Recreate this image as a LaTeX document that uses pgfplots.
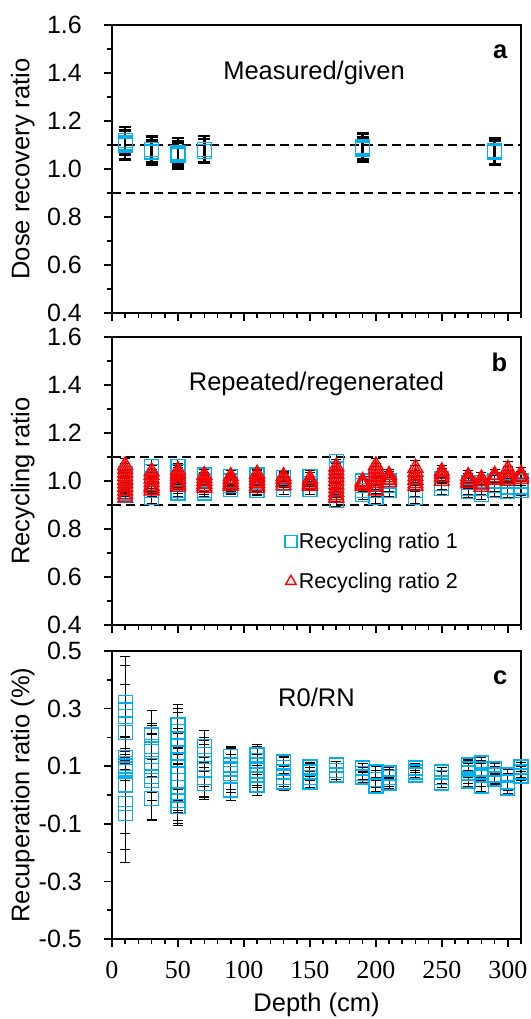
\documentclass[border=0pt]{standalone}
\usepackage{fontspec}
\setmainfont{Liberation Sans}
\newfontfamily\timesfont{Liberation Serif}
\usepackage{pgfplots}
\usepackage{pgfplotstable}
\pgfplotsset{compat=1.18}

\definecolor{rrblue}{RGB}{0,176,240}
\definecolor{rrred}{RGB}{255,0,0}

\newcommand\tickfont{\fontsize{25}{28}\selectfont}
\newcommand\labfont{\fontsize{25.5}{28}\selectfont}

% Dose recovery: depth (cm), ratio, error
\pgfplotstableread{
x y e
10 1.120 0.056
10 1.100 0.060
10 1.108 0.050
30 1.080 0.055
30 1.068 0.050
30 1.074 0.045
50 1.070 0.060
50 1.058 0.058
50 1.064 0.045
70 1.082 0.055
70 1.074 0.050
190 1.092 0.056
190 1.080 0.050
190 1.086 0.045
290 1.075 0.055
290 1.068 0.050
}\doserec

% Recycling ratio 1
\pgfplotstableread{
x y e
10 1.030 0.030
10 1.010 0.025
10 0.990 0.030
10 0.970 0.025
10 0.950 0.030
10 0.940 0.025
30 1.060 0.030
30 1.040 0.025
30 1.010 0.030
30 0.980 0.030
30 0.960 0.025
30 0.930 0.025
50 1.060 0.030
50 1.040 0.025
50 1.010 0.030
50 0.990 0.030
50 0.960 0.025
50 0.950 0.025
70 1.025 0.025
70 1.000 0.030
70 0.980 0.025
70 0.960 0.025
70 0.950 0.020
90 1.020 0.025
90 1.000 0.025
90 0.980 0.030
90 0.965 0.020
110 1.025 0.025
110 1.000 0.030
110 0.980 0.025
110 0.960 0.020
130 1.015 0.020
130 0.990 0.025
130 0.965 0.020
150 1.020 0.025
150 0.990 0.025
150 0.965 0.020
170 1.080 0.030
170 1.050 0.030
170 1.010 0.030
170 0.970 0.030
170 0.940 0.025
170 0.920 0.025
190 1.000 0.030
190 0.980 0.025
190 0.960 0.030
190 0.945 0.020
200 1.020 0.030
200 0.990 0.025
200 0.960 0.030
200 0.930 0.025
210 1.000 0.030
210 0.980 0.025
210 0.960 0.025
230 0.990 0.030
230 0.960 0.025
230 0.930 0.025
250 1.010 0.030
250 0.990 0.025
250 0.970 0.025
270 0.995 0.030
270 0.970 0.025
270 0.955 0.025
280 0.995 0.030
280 0.970 0.025
280 0.945 0.020
290 1.000 0.030
290 0.980 0.025
290 0.960 0.025
300 1.000 0.030
300 0.975 0.025
300 0.955 0.025
310 1.000 0.030
310 0.975 0.025
310 0.960 0.020
}\recycA

% Recycling ratio 2
\pgfplotstableread{
x y e
10 1.065 0.030
10 1.050 0.025
10 1.035 0.025
10 1.020 0.025
10 1.005 0.030
10 0.990 0.025
10 0.975 0.025
10 0.960 0.025
10 0.945 0.020
10 0.931 0.020
30 1.040 0.030
30 1.025 0.025
30 1.010 0.025
30 0.995 0.025
30 0.980 0.030
30 0.970 0.025
30 0.960 0.025
50 1.045 0.030
50 1.032 0.025
50 1.020 0.025
50 1.008 0.025
50 0.995 0.030
50 0.985 0.025
50 0.975 0.025
70 1.025 0.025
70 1.012 0.025
70 1.000 0.025
70 0.988 0.020
70 0.978 0.025
70 0.970 0.025
90 1.020 0.025
90 1.008 0.025
90 0.997 0.020
90 0.988 0.025
90 0.980 0.025
110 1.030 0.025
110 1.017 0.025
110 1.005 0.020
110 0.992 0.025
110 0.980 0.025
110 0.970 0.025
130 1.020 0.020
130 1.008 0.025
130 0.995 0.020
130 0.982 0.020
150 1.010 0.025
150 0.998 0.020
150 0.988 0.020
150 0.980 0.020
170 1.060 0.030
170 1.045 0.030
170 1.030 0.030
170 1.015 0.025
170 1.000 0.025
170 0.985 0.030
170 0.970 0.025
170 0.955 0.025
170 0.940 0.025
170 0.930 0.020
190 1.000 0.030
190 0.993 0.025
190 0.986 0.025
190 0.980 0.025
200 1.065 0.030
200 1.050 0.025
200 1.035 0.025
200 1.020 0.030
200 1.005 0.025
200 0.990 0.025
200 0.975 0.025
200 0.960 0.025
210 1.025 0.025
210 1.015 0.025
210 1.005 0.020
210 0.995 0.020
230 1.055 0.030
230 1.038 0.025
230 1.020 0.025
230 1.005 0.025
230 0.990 0.025
230 0.980 0.025
250 1.040 0.025
250 1.028 0.025
250 1.015 0.025
250 1.000 0.020
270 1.020 0.025
270 1.008 0.025
270 0.997 0.020
270 0.990 0.020
280 1.010 0.025
280 0.998 0.025
280 0.986 0.020
280 0.975 0.020
290 1.025 0.025
290 1.015 0.020
290 1.005 0.020
300 1.050 0.030
300 1.035 0.025
300 1.020 0.025
300 1.008 0.020
300 1.000 0.020
310 1.030 0.025
310 1.018 0.020
310 1.008 0.020
}\recycB

% Recuperation
\pgfplotstableread{
x y e
10 0.322 0.160
10 0.295 0.155
10 0.272 0.110
10 0.216 0.166
10 0.131 0.070
10 0.101 0.050
10 0.110 0.020
10 0.090 0.030
10 0.035 0.168
10 -0.029 0.160
10 -0.064 0.172
30 0.208 0.085
30 0.168 0.080
30 0.150 0.060
30 0.110 0.130
30 0.085 0.060
30 0.064 0.150
30 0.050 0.040
30 -0.012 0.075
50 0.243 0.070
50 0.220 0.080
50 0.195 0.090
50 0.170 0.060
50 0.145 0.070
50 0.120 0.100
50 0.100 0.120
50 0.075 0.090
50 0.050 0.110
50 0.025 0.080
50 0.000 0.100
50 -0.020 0.070
50 -0.041 0.065
70 0.168 0.055
70 0.140 0.060
70 0.110 0.080
70 0.085 0.090
70 0.060 0.070
70 0.041 0.055
90 0.133 0.035
90 0.104 0.060
90 0.090 0.070
90 0.075 0.065
90 0.017 0.035
110 0.139 0.035
110 0.120 0.050
110 0.104 0.070
110 0.085 0.060
110 0.069 0.070
110 0.035 0.035
130 0.115 0.024
130 0.095 0.040
130 0.080 0.050
130 0.060 0.040
130 0.045 0.028
150 0.097 0.015
150 0.080 0.030
150 0.060 0.035
150 0.045 0.020
170 0.104 0.012
170 0.085 0.030
170 0.069 0.025
190 0.094 0.015
190 0.075 0.020
190 0.063 0.020
200 0.080 0.020
200 0.055 0.030
200 0.031 0.020
210 0.076 0.020
210 0.060 0.030
210 0.042 0.020
230 0.094 0.015
230 0.080 0.020
230 0.069 0.015
250 0.080 0.015
250 0.060 0.020
250 0.042 0.015
270 0.104 0.020
270 0.090 0.030
270 0.076 0.035
270 0.049 0.020
280 0.111 0.020
280 0.090 0.030
280 0.069 0.040
280 0.031 0.020
290 0.090 0.020
290 0.070 0.030
290 0.056 0.020
300 0.069 0.020
300 0.045 0.030
300 0.024 0.020
310 0.097 0.015
310 0.080 0.020
310 0.066 0.015
}\recup

\pgfplotsset{
  panel/.style={
    scale only axis, width=409pt, height=288pt,
    anchor=south west,
    xmin=0, xmax=310,
    xtick={0,50,100,150,200,250,300},
    minor xtick={0,10,...,310},
    xticklabels={},
    tick align=outside,
    xtick pos=bottom, ytick pos=left,
    major tick length=8pt, minor tick length=5pt,
    every tick/.style={black, line width=1.6pt},
    axis line style={line width=2pt},
    every tick label/.style={font=\tickfont},
    every y tick label/.style={anchor=east, inner xsep=0pt, xshift=-22pt},
    every axis y label/.style={at={(axis description cs:-0.218,0.5)}, rotate=90, anchor=center, font=\labfont},
    every axis x label/.style={at={(axis description cs:0.5,0)}, anchor=center, yshift=-66pt, font=\labfont},
    clip=false,
  },
  ratioaxis/.style={
    ymin=0.4, ymax=1.6,
    ytick={0.4,0.6,0.8,1.0,1.2,1.4,1.6},
    yticklabels={0.4,0.6,0.8,1.0,1.2,1.4,1.6},
    minor ytick={0.5,0.7,0.9,1.1,1.3,1.5},
  },
  refline/.style={black, line width=2pt, dash pattern=on 9pt off 5pt, forget plot},
  thinbars/.style={error bars/.cd, y dir=both, y explicit,
    error bar style={black, line width=1pt},
    error mark options={rotate=90, black, line width=1pt, mark size=5pt}},
}

\begin{document}
\begin{tikzpicture}
% ---------- a: dose recovery ----------
\begin{axis}[panel, ratioaxis, at={(112pt,-313pt)},
  ylabel={Dose recovery ratio}]
\addplot[refline] coordinates {(0,1.1) (310,1.1)};
\addplot[refline] coordinates {(0,0.9) (310,0.9)};
\addplot[only marks, mark=square, mark size=7pt, rrblue, mark options={line width=1.3pt},
  error bars/.cd, y dir=both, y explicit,
  error bar style={black, line width=2.4pt},
  error mark options={rotate=90, black, line width=2.4pt, mark size=6pt}]
  table[x=x, y=y, y error=e] {\doserec};
\node[font=\labfont] at (rel axis cs:0.494,0.833) {Measured/given};
\node[font=\labfont\bfseries, anchor=east] at (rel axis cs:0.975,0.906) {a};
\end{axis}

% ---------- b: recycling ----------
\begin{axis}[panel, ratioaxis, at={(112pt,-625pt)},
  ylabel={Recycling ratio},
  legend style={at={(rel axis cs:0.415,0.335)}, anchor=north west, draw=none, fill=none,
    font=\fontsize{21.5}{24}\selectfont, row sep=19pt},
  legend cell align=left,
  legend image code/.code={\draw[#1, mark size=6pt] plot coordinates {(6pt,0pt)};}]
\addplot[refline] coordinates {(0,1.1) (310,1.1)};
\addplot[refline] coordinates {(0,0.9) (310,0.9)};
\addplot[only marks, mark=square, mark size=7pt, rrblue, mark options={line width=1.3pt}, thinbars]
  table[x=x, y=y, y error=e] {\recycA};
\addplot[only marks, mark=triangle, mark size=8.5pt, rrred, mark options={line width=1.4pt}, thinbars]
  table[x=x, y=y, y error=e] {\recycB};
\legend{Recycling ratio 1, Recycling ratio 2}
\node[font=\labfont] at (rel axis cs:0.5,0.836) {Repeated/regenerated};
\node[font=\labfont\bfseries, anchor=east] at (rel axis cs:0.975,0.913) {b};
\end{axis}

% ---------- c: recuperation ----------
\begin{axis}[panel, at={(112pt,-939pt)},
  ymin=-0.5, ymax=0.5,
  ytick={-0.5,-0.3,-0.1,0.1,0.3,0.5},
  yticklabels={-0.5,-0.3,-0.1,0.1,0.3,0.5},
  minor ytick={-0.4,-0.2,0,0.2,0.4},
  xticklabels={0,50,100,150,200,250,300},
  xticklabel style={font=\timesfont\fontsize{26}{28}\selectfont, yshift=-11pt},
  ylabel={Recuperation ratio (\%)},
  xlabel={Depth (cm)}]
\addplot[only marks, mark=square, mark size=7pt, rrblue, mark options={line width=1.3pt}, thinbars]
  table[x=x, y=y, y error=e] {\recup};
\node[font=\labfont] at (rel axis cs:0.5,0.84) {R0/RN};
\node[font=\labfont\bfseries, anchor=east] at (rel axis cs:0.975,0.906) {c};
\end{axis}

\pgfresetboundingbox
\path[use as bounding box] (0pt,0pt) rectangle (530pt,-1019pt);
\end{tikzpicture}
\end{document}
